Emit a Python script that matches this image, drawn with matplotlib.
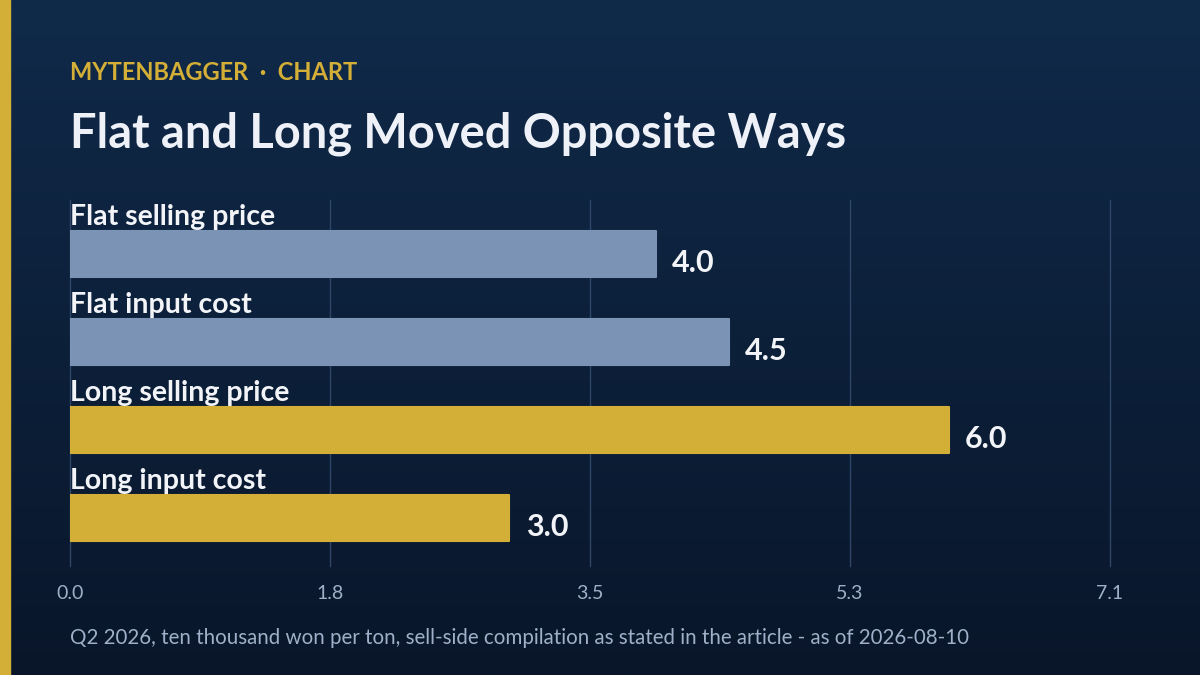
import numpy as np
import matplotlib
matplotlib.use("Agg")
from matplotlib import pyplot as plt

# chart data
categories = ["Flat selling price", "Flat input cost", "Long selling price", "Long input cost"]
values = [4.0, 4.5, 6.0, 3.0]
bar_colors = ["#7b93b5", "#7b93b5", "#d4af37", "#d4af37"]
tick_values = [0.0, 1.775, 3.55, 5.325, 7.1]
tick_labels = ["0.0", "1.8", "3.5", "5.3", "7.1"]

kicker = "MYTENBAGGER  \u00b7  CHART"
title = "Flat and Long Moved Opposite Ways"
footer = "Q2 2026, ten thousand won per ton, sell-side compilation as stated in the article - as of 2026-08-10"

plt.rcParams['font.family'] = ['Lato', 'DejaVu Sans']

W, H = 1200, 675
fig = plt.figure(figsize=(W / 100, H / 100), dpi=100)

# background gradient
bg = fig.add_axes([0, 0, 1, 1], zorder=-10)
grad = np.linspace(0, 1, 256).reshape(-1, 1)
top = np.array([16, 42, 74]) / 255
bot = np.array([9, 22, 42]) / 255
img = top + (bot - top) * grad[..., None]
bg.imshow(img, aspect='auto', extent=[0, 1, 0, 1])
bg.add_patch(plt.Rectangle((0, 0), 10 / W, 1, color="#d4af37"))
bg.set_axis_off()

# main axes, pixel box 70..1110 x, 200..566 y
ax = fig.add_axes([70 / W, 1 - 566 / H, 1040 / W, 366 / H])
ax.set_facecolor("none")
y = np.arange(len(categories))
ax.barh(y, values, height=0.52, color=bar_colors, edgecolor=bar_colors,
        linewidth=1.5, joinstyle='round', zorder=3)
ax.set_xlim(0, 7.1)
ax.set_ylim(3.545, -0.614)

for i, (cat, v) in enumerate(zip(categories, values)):
    ax.text(0, i - 0.27, cat, ha='left', va='bottom', fontsize=20.5,
            fontweight='bold', color="#f2f4f8", zorder=4)
    ax.text(v + 0.11, i + 0.1, f"{v:.1f}", ha='left', va='center', fontsize=22,
            fontweight='bold', color="#f2f4f8", zorder=4)

ax.set_xticks(tick_values)
ax.set_xticklabels(tick_labels, fontsize=14, color="#9fb0c8")
ax.set_yticks([])
ax.tick_params(axis='x', length=0, pad=14)
ax.grid(axis='x', color="#2e4668", linewidth=1, zorder=0)
for gl in ax.get_xgridlines():
    gl.set_clip_on(False)
for s in ax.spines.values():
    s.set_visible(False)

fig.text(70 / W, 1 - 73 / H, kicker, ha='left', va='center', fontsize=17,
         fontweight='bold', color="#d4af37")
fig.text(70 / W, 1 - 134 / H, title, ha='left', va='center', fontsize=33.8,
         fontweight='bold', color="#eef2f8")
fig.text(70 / W, 1 - 638 / H, footer, ha='left', va='center', fontsize=14.8,
         color="#9fb0c8")

fig.savefig("out.png", dpi=100)
